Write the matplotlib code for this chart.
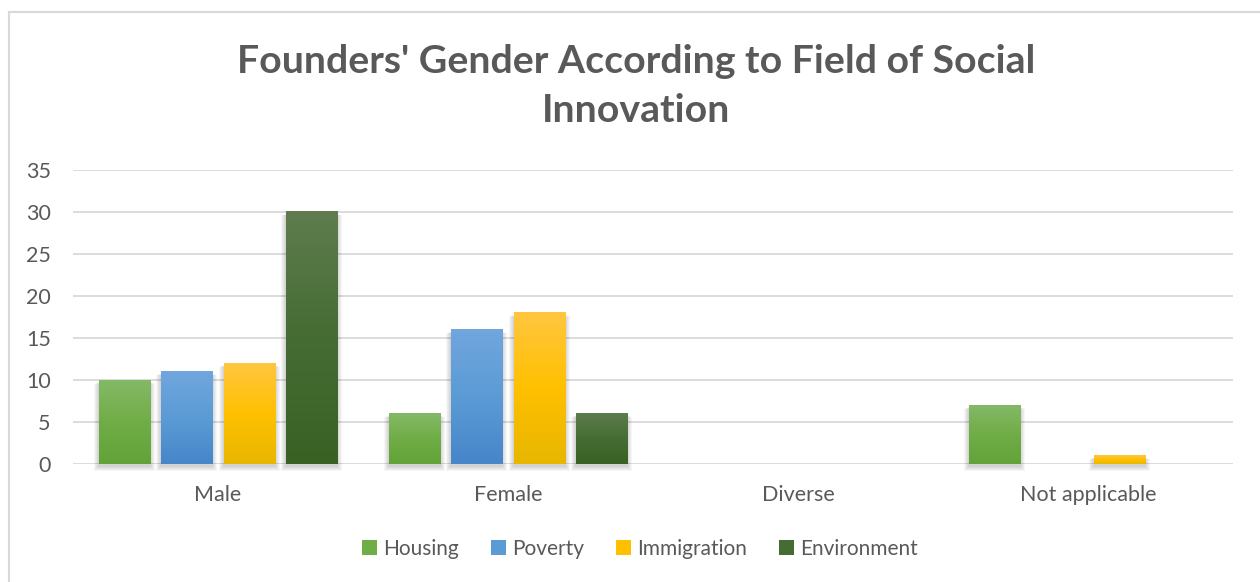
import numpy as np
import matplotlib
matplotlib.use("Agg")
import matplotlib.pyplot as plt
from matplotlib.colors import LinearSegmentedColormap
from matplotlib.patches import Rectangle, Patch
from matplotlib.lines import Line2D

# Founders per gender, split by field of social innovation
categories = ["Male", "Female", "Diverse", "Not applicable"]
fields = ["Housing", "Poverty", "Immigration", "Environment"]
housing = [10, 6, 0, 7]
poverty = [11, 16, 0, 0]
immigration = [12, 18, 0, 1]
environment = [30, 6, 0, 0]
yticks = [0, 5, 10, 15, 20, 25, 30, 35]

# top / middle / bottom colours of each bar gradient
gradients = {
    "Housing": ("#84b967", "#70ad47", "#62a338"),
    "Poverty": ("#71a6de", "#5b9bd5", "#4686c9"),
    "Immigration": ("#ffc640", "#ffc000", "#e8b600"),
    "Environment": ("#5f7d4e", "#456c33", "#3a6124"),
}
text_color = "#595959"
grid_color = "#d9d9d9"

plt.rcParams["font.family"] = ["Lato", "DejaVu Sans"]

fig = plt.figure(figsize=(12.6, 5.82), dpi=100)
ax = fig.add_axes([73 / 1260, 1 - 464 / 582, 1160 / 1260, 294 / 582])

series = [housing, poverty, immigration, environment]
x = np.arange(len(categories))
pitch = 0.2155
width = 0.176
px_x = 290.0  # pixels per category
px_y = 294.0 / 35  # pixels per unit

grad = np.linspace(1, 0, 256).reshape(-1, 1)
for i, (name, vals) in enumerate(zip(fields, series)):
    top, mid, bot = gradients[name]
    cmap = LinearSegmentedColormap.from_list(name, [(0, bot), (0.5, mid), (1, top)])
    for xc, v in zip(x + (i - 1.5) * pitch, vals):
        if v <= 0:
            continue
        x0, x1 = xc - width / 2, xc + width / 2
        # soft drop shadow
        for k in range(1, 6):
            dx = k / px_x
            dy = k / px_y
            ax.add_patch(Rectangle((x0 - dx, -dy - 1.5 / px_y), width + 2 * dx, v + dy * 0.6,
                                   facecolor="black", edgecolor="none", alpha=0.035,
                                   zorder=2, clip_on=False))
        ax.imshow(grad, extent=[x0, x1, 0, v], aspect="auto",
                  cmap=cmap, vmin=0, vmax=1, zorder=3, interpolation="bilinear")

ax.set_xlim(-0.5, len(categories) - 0.5)
ax.set_ylim(0, 35)
ax.set_yticks(yticks)
ax.set_xticks(x)
ax.set_xticklabels(categories)
ax.tick_params(axis="both", length=0, labelsize=15.5, labelcolor=text_color)
ax.tick_params(axis="y", pad=16)
ax.tick_params(axis="x", pad=15)
for t in yticks:
    ax.axhline(t, color=grid_color, linewidth=1.3, zorder=1)
for s in ax.spines.values():
    s.set_visible(False)

fig.text(636 / 1260, 1 - 86 / 582, "Founders' Gender According to Field of Social\nInnovation",
         ha="center", va="center", fontsize=28.3, fontweight="bold", color=text_color,
         linespacing=1.5)

handles = [Patch(facecolor=gradients[f][1], edgecolor="none") for f in fields]
fig.legend(handles, fields, loc="center", bbox_to_anchor=(640 / 1260, 1 - 549 / 582),
           ncol=4, frameon=False, fontsize=15, labelcolor=text_color,
           handlelength=0.75, handleheight=0.75, handletextpad=0.3, columnspacing=1.5)

# chart area border (top and left edges)
fig.add_artist(Line2D([9 / 1260, 9 / 1260], [0, 1 - 12 / 582], color=grid_color,
                      linewidth=1.5, transform=fig.transFigure))
fig.add_artist(Line2D([9 / 1260, 1], [1 - 12 / 582, 1 - 12 / 582], color=grid_color,
                      linewidth=1.5, transform=fig.transFigure))

fig.savefig("out.png", dpi=100, facecolor="white")
